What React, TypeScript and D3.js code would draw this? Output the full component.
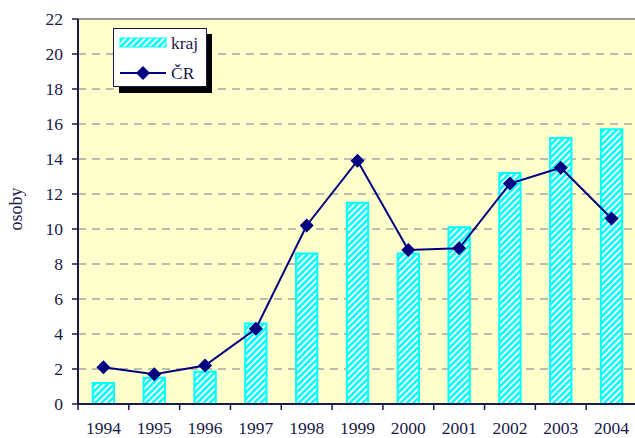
import React from 'react';
import * as d3 from 'd3';

// hodnoty
const years = ['1994', '1995', '1996', '1997', '1998', '1999', '2000', '2001', '2002', '2003', '2004'];
const krajValues = [1.2, 1.5, 1.85, 4.6, 8.6, 11.5, 8.6, 10.1, 13.2, 15.2, 15.7];
const crValues = [2.1, 1.7, 2.2, 4.3, 10.2, 13.9, 8.8, 8.9, 12.6, 13.5, 10.6];
const yTicks = [0, 2, 4, 6, 8, 10, 12, 14, 16, 18, 20, 22];

const W = 635;
const H = 438;
const margin = { top: 19, right: -2, bottom: 34, left: 78 };
const font = 'Liberation Serif, Times New Roman, serif';
const ink = '#1a1a4a';
const navy = '#000080';

function diamond(x: number, y: number, r: number) {
    return `M${x},${y - r}L${x + r},${y}L${x},${y + r}L${x - r},${y}Z`;
}

export default function App() {
    const x = d3
        .scaleBand()
        .domain(years)
        .range([margin.left, W - margin.right])
        .paddingInner(0)
        .paddingOuter(0);
    const y = d3
        .scaleLinear()
        .domain([0, 22])
        .range([H - margin.bottom, margin.top]);

    const barW = x.bandwidth() * 0.42;
    const cx = (d: string) => (x(d) as number) + x.bandwidth() / 2;

    const line = d3
        .line<number>()
        .x((_, i) => cx(years[i]))
        .y((d) => y(d));

    const plotRight = W - margin.right;

    return (
        <svg width={W} height={H} style={{ position: 'absolute', left: 0, top: 0, fontFamily: font }}>
            <defs>
                <pattern id="hatch" patternUnits="userSpaceOnUse" width="4.5" height="4.5" patternTransform="rotate(45)">
                    <rect width="4.5" height="4.5" fill="#ffffff" />
                    <rect width="2.6" height="4.5" fill="#00ffff" />
                </pattern>
            </defs>

            <rect x={0} y={0} width={W} height={H} fill="#ffffff" />

            {/* plot area */}
            <rect x={margin.left} y={margin.top} width={plotRight - margin.left} height={y(0) - margin.top} fill="#ffffcc" />
            <line x1={margin.left} x2={plotRight} y1={margin.top} y2={margin.top} stroke="#999999" strokeWidth={2} />

            {/* gridlines */}
            {yTicks.filter(t => t > 0 && t < 22).map(t => (
                <line key={t} x1={margin.left} x2={plotRight} y1={y(t)} y2={y(t)}
                    stroke="#a6a6a6" strokeWidth={1.5} strokeDasharray="8,6" />
            ))}

            {/* bars */}
            {krajValues.map((v, i) => (
                <rect key={years[i]} x={cx(years[i]) - barW / 2} y={y(v)} width={barW} height={y(0) - y(v)}
                    fill="url(#hatch)" stroke="#00ffff" strokeWidth={2} />
            ))}

            {/* line */}
            <path d={line(crValues) || ''} fill="none" stroke={navy} strokeWidth={2} />
            {crValues.map((v, i) => (
                <path key={years[i]} d={diamond(cx(years[i]), y(v), 7)} fill={navy} />
            ))}

            {/* axes */}
            <line x1={margin.left} x2={margin.left} y1={margin.top} y2={y(0)} stroke={ink} strokeWidth={2} />
            <line x1={margin.left} x2={plotRight} y1={y(0)} y2={y(0)} stroke={ink} strokeWidth={2} />
            {yTicks.map(t => (
                <g key={t}>
                    <line x1={margin.left - 6} x2={margin.left} y1={y(t)} y2={y(t)} stroke={ink} strokeWidth={1.5} />
                    <text x={63} y={y(t)} dy="0.35em" textAnchor="end" fontSize={17.5} fill={ink}>{t}</text>
                </g>
            ))}
            {years.map(d => (
                <g key={d}>
                    <line x1={x(d) as number} x2={x(d) as number} y1={y(0)} y2={y(0) + 6} stroke={ink} strokeWidth={1.5} />
                    <text x={cx(d)} y={434} textAnchor="middle" fontSize={17.5} fill={ink}>{d}</text>
                </g>
            ))}
            <text transform={`translate(22, 209) rotate(-90)`} textAnchor="middle" fontSize={18} fill={ink}>osoby</text>

            {/* legend */}
            <g>
                <rect x={119} y={34} width={93} height={59} fill="#000000" />
                <rect x={113.5} y={28.5} width={93} height={58} fill="#ffffff" stroke={ink} strokeWidth={1} />
                <rect x={120} y={38} width={46} height={9} fill="url(#hatch)" stroke="#00ffff" strokeWidth={1} />
                <text x={171} y={49} fontSize={17.5} fill={ink}>kraj</text>
                <line x1={120} x2={166} y1={73} y2={73} stroke={navy} strokeWidth={2} />
                <path d={diamond(143, 73, 7)} fill={navy} />
                <text x={171} y={79} fontSize={17.5} fill={ink}>ČR</text>
            </g>
        </svg>
    );
}
